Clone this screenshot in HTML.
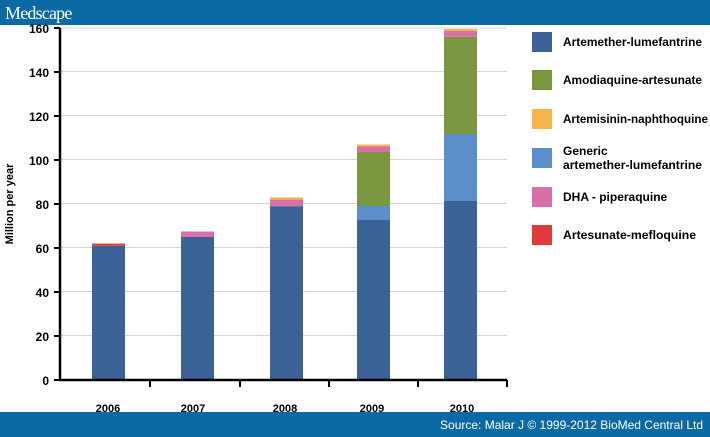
<!DOCTYPE html>
<html><head><style>
html,body{margin:0;padding:0;background:#fff}
svg{display:block;font-family:"Liberation Sans",Arial,sans-serif}
</style></head><body>
<svg width="710" height="437" viewBox="0 0 710 437" xmlns="http://www.w3.org/2000/svg">
<rect x="0" y="0" width="710" height="25" fill="#0b6aa3"/>
<text x="5" y="19" fill="#fff" font-family="Liberation Serif,serif" font-size="18" letter-spacing="-0.8">Medscape</text>
<g stroke="#d4d4d4" stroke-width="1">
<line x1="60" y1="28" x2="507" y2="28"/>
<line x1="60" y1="71.5" x2="507" y2="71.5"/>
<line x1="60" y1="115.5" x2="507" y2="115.5"/>
<line x1="60" y1="159.5" x2="507" y2="159.5"/>
<line x1="60" y1="203.5" x2="507" y2="203.5"/>
<line x1="60" y1="247.5" x2="507" y2="247.5"/>
<line x1="60" y1="291.5" x2="507" y2="291.5"/>
<line x1="60" y1="335.5" x2="507" y2="335.5"/>
</g>
<rect x="92" y="245.8" width="33" height="134.2" fill="#3a6296"/>
<rect x="92" y="243.6" width="33" height="2.2" fill="#e03a3a"/>
<rect x="181" y="237" width="33" height="143" fill="#3a6296"/>
<rect x="181" y="231.5" width="33" height="5.5" fill="#d96fa8"/>
<rect x="270" y="206.2" width="33" height="173.8" fill="#3a6296"/>
<rect x="270" y="199.6" width="33" height="6.6" fill="#d96fa8"/>
<rect x="270" y="197.4" width="33" height="2.2" fill="#f5b54a"/>
<rect x="357" y="220" width="33" height="160" fill="#3a6296"/>
<rect x="357" y="206" width="33" height="14" fill="#5a8fcc"/>
<rect x="357" y="152" width="33" height="54" fill="#7a963e"/>
<rect x="357" y="146.5" width="33" height="5.5" fill="#d96fa8"/>
<rect x="357" y="144.5" width="33" height="2" fill="#f5b54a"/>
<rect x="444" y="201" width="33" height="179" fill="#3a6296"/>
<rect x="444" y="134" width="33" height="67" fill="#5a8fcc"/>
<rect x="444" y="36.8" width="33" height="97.2" fill="#7a963e"/>
<rect x="444" y="31" width="33" height="5.8" fill="#d96fa8"/>
<rect x="444" y="29" width="33" height="2" fill="#f5b54a"/>
<g stroke="#000" stroke-width="2.5">
<line x1="60" y1="28" x2="60" y2="381"/>
<line x1="59" y1="380" x2="507" y2="380"/>
</g>
<g stroke="#000" stroke-width="2">
<line x1="54" y1="28" x2="60" y2="28"/><line x1="54" y1="72" x2="60" y2="72"/>
<line x1="54" y1="116" x2="60" y2="116"/><line x1="54" y1="160" x2="60" y2="160"/>
<line x1="54" y1="204" x2="60" y2="204"/><line x1="54" y1="248" x2="60" y2="248"/>
<line x1="54" y1="292" x2="60" y2="292"/><line x1="54" y1="336" x2="60" y2="336"/>
<line x1="54" y1="380" x2="60" y2="380"/>
<line x1="150" y1="380" x2="150" y2="387"/><line x1="240" y1="380" x2="240" y2="387"/>
<line x1="329" y1="380" x2="329" y2="387"/><line x1="418" y1="380" x2="418" y2="387"/>
<line x1="507" y1="380" x2="507" y2="387"/>
</g>
<g font-size="12" font-weight="bold" text-anchor="end">
<text x="49" y="33">160</text><text x="49" y="77">140</text><text x="49" y="121">120</text>
<text x="49" y="165">100</text><text x="49" y="209">80</text><text x="49" y="253">60</text>
<text x="49" y="297">40</text><text x="49" y="341">20</text><text x="49" y="385">0</text>
</g>
<text transform="translate(13,204) rotate(-90)" font-size="11" font-weight="bold" text-anchor="middle">Million per year</text>
<g font-size="11" font-weight="bold" text-anchor="middle">
<text x="108" y="412">2006</text><text x="193" y="412">2007</text><text x="285" y="412">2008</text>
<text x="372" y="412">2009</text><text x="462" y="412">2010</text>
</g>
<rect x="532" y="32" width="20" height="20" fill="#3a6296"/>
<rect x="532" y="70" width="20" height="20" fill="#7a963e"/>
<rect x="532" y="109" width="20" height="20" fill="#f5b54a"/>
<rect x="532" y="148" width="20" height="20" fill="#5a8fcc"/>
<rect x="532" y="187" width="20" height="20" fill="#d96fa8"/>
<rect x="532" y="225" width="20" height="20" fill="#e03a3a"/>
<g font-size="12" font-weight="bold">
<text x="563" y="46" textLength="139" lengthAdjust="spacingAndGlyphs">Artemether-lumefantrine</text>
<text x="563" y="84" textLength="139" lengthAdjust="spacingAndGlyphs">Amodiaquine-artesunate</text>
<text x="563" y="123" textLength="145" lengthAdjust="spacingAndGlyphs">Artemisinin-naphthoquine</text>
<text x="563" y="155">Generic</text>
<text x="563" y="169" textLength="139" lengthAdjust="spacingAndGlyphs">artemether-lumefantrine</text>
<text x="563" y="201">DHA - piperaquine</text>
<text x="563" y="239" textLength="133" lengthAdjust="spacingAndGlyphs">Artesunate-mefloquine</text>
</g>
<rect x="0" y="412" width="710" height="25" fill="#0b6aa3"/>
<text x="703" y="429" fill="#fff" font-size="12" text-anchor="end">Source: Malar J © 1999-2012 BioMed Central Ltd</text>
</svg>
</body></html>
